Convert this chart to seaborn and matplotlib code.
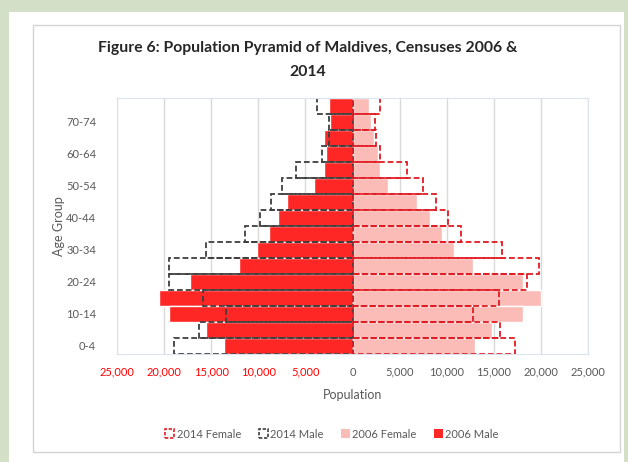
import numpy as np
import pandas as pd
import matplotlib
matplotlib.use("Agg")
import matplotlib.pyplot as plt
import seaborn as sns
from matplotlib.patches import Patch, Rectangle
from matplotlib.ticker import FuncFormatter

# ---- data ----
age_groups = ["0-4", "5-9", "10-14", "15-19", "20-24", "25-29", "30-34", "35-39",
              "40-44", "45-49", "50-54", "55-59", "60-64", "65-69", "70-74", "75+"]
male_2006 = [13600, 15540, 19450, 20550, 17240, 12100, 10180, 8910,
             7930, 6960, 4130, 3030, 2820, 3030, 2360, 2450]
male_2014 = [18920, 16320, 13430, 15890, 19440, 19440, 15540, 11400,
             9800, 8660, 7490, 5950, 3250, 2460, 2460, 3770]
female_2006 = [12990, 14760, 18110, 19990, 18110, 12810, 10790, 9520,
               8200, 6840, 3820, 2870, 2760, 2300, 1950, 1700]
female_2014 = [17240, 15640, 12810, 15520, 18550, 19820, 15890, 11500,
               10160, 8850, 7460, 5800, 2940, 2450, 2410, 2940]
shown_labels = ["0-4", "10-14", "20-24", "30-34", "40-44", "50-54", "60-64", "70-74"]
x_ticks = [-25000, -20000, -15000, -10000, -5000, 0, 5000, 10000, 15000, 20000, 25000]

df = pd.DataFrame({
    "age": age_groups,
    "m06": -np.array(male_2006),
    "m14": -np.array(male_2014),
    "f06": np.array(female_2006),
    "f14": np.array(female_2014),
})

sns.set_theme(style="white")
plt.rcParams["font.family"] = ["Lato", "DejaVu Sans"]

W, H = 628, 462
fig = plt.figure(figsize=(W / 100, H / 100), dpi=100)
fig.patch.set_facecolor("#d3dfc6")
fig.add_artist(Rectangle((9 / W, 0), (624 - 9) / W, (H - 12) / H,
                         transform=fig.transFigure, facecolor="white",
                         edgecolor="none", zorder=-10))
fig.add_artist(Rectangle((33 / W, 1 - 452 / H), (620 - 33) / W, (452 - 25) / H,
                         transform=fig.transFigure, fill=False,
                         edgecolor="#d4d4d4", lw=1.0, zorder=-5))

ax = fig.add_axes([117 / W, 1 - 354 / H, 471 / W, 256 / H])
ax.set_facecolor("white")

order = age_groups[::-1]
common = dict(data=df, y="age", order=order, orient="h", width=1.0,
              saturation=1, errorbar=None, ax=ax)
red = "#ff2626"
pink = "#fbbcb8"
red_dash = "#e01b22"
gray_dash = "#3f3f3f"
dash = (0, (3.2, 1.6))

sns.barplot(x="m06", color=red, **common)
sns.barplot(x="f06", color=pink, **common)
sns.barplot(x="m14", color=gray_dash, fill=False, linestyle=dash, linewidth=1.3, **common)
sns.barplot(x="f14", color=red_dash, fill=False, linestyle=dash, linewidth=1.3, **common)

ax.set_xlim(-25000, 25000)
ax.set_ylim(len(order) - 0.5, -0.5)
ax.set_xticks(x_ticks)
ax.xaxis.set_major_formatter(FuncFormatter(lambda v, p: f"{abs(int(v)):,}"))
ax.grid(axis="x", color="#d9d9d9", lw=1.0)
ax.grid(axis="y", visible=False)
ax.set_axisbelow(True)

ax.set_yticks(range(len(order)))
ax.set_yticklabels([lab if lab in shown_labels else "" for lab in order])

for s in ax.spines.values():
    s.set_color("#dae3ee")
    s.set_linewidth(0.8)

ax.tick_params(axis="x", length=0, pad=9, labelsize=8, labelcolor="#595959")
ax.tick_params(axis="y", length=0, pad=15, labelsize=8, labelcolor="#595959")
for lab, v in zip(ax.get_xticklabels(), x_ticks):
    if v < 0:
        lab.set_color("#ff0000")

ax.set_xlabel("Population", fontsize=9, color="#595959", labelpad=8)
ax.set_ylabel("Age Group", fontsize=9, color="#595959", labelpad=1)

fig.text(308 / W, 1 - 48 / H, "Figure 6: Population Pyramid of Maldives, Censuses 2006 &",
         ha="center", va="center", fontsize=11.3, fontweight="bold", color="#262626")
fig.text(308 / W, 1 - 72 / H, "2014", ha="center", va="center",
         fontsize=11.3, fontweight="bold", color="#262626")

handles = [
    Patch(facecolor="none", edgecolor=red_dash, linestyle=(0, (2, 1)), linewidth=1.2, label="2014 Female"),
    Patch(facecolor="none", edgecolor=gray_dash, linestyle=(0, (2, 1)), linewidth=1.2, label="2014 Male"),
    Patch(facecolor=pink, edgecolor="none", label="2006 Female"),
    Patch(facecolor=red, edgecolor="none", label="2006 Male"),
]
fig.legend(handles=handles, loc="center", bbox_to_anchor=(332 / W, 1 - 434 / H),
           ncol=4, frameon=False, fontsize=8, labelcolor="#595959",
           handlelength=0.8, handleheight=0.8, handletextpad=0.2, columnspacing=1.6)

fig.savefig("out.png", dpi=100, facecolor=fig.get_facecolor())
